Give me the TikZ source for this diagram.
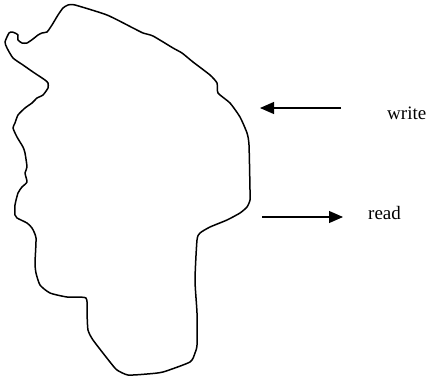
\documentclass[tikz,border=0pt]{standalone}
\usepackage{fontspec}
\setmainfont{Liberation Serif}
\usetikzlibrary{arrows.meta}
\begin{document}
\begin{tikzpicture}[x=1pt,y=-1pt,
  outline/.style={line width=1.5pt,line join=round},
  flowarrow/.style={line width=1.1pt,-{Triangle[length=14pt,width=12pt]}},
  label/.style={font=\fontsize{19}{22}\selectfont,inner sep=0pt,anchor=west}]
\useasboundingbox (0,0) rectangle (430,378);
\draw[outline] plot[smooth cycle,tension=0.35] coordinates {
(68,5) (75,5) (107,15) (133,28) (143,33) (153,36) (173,48) (182,53) (193,62) (210,75) (217,83) (218,93) (230,103) (240,117) (247,133) (249,145) (250,190) (250,200) (247,207) (240,213) (227,220) (210,227) (200,233) (197,240) (195,280) (197,313) (197,345) (195,353) (190,362) (163,372) (147,374) (128,375) (117,370) (110,362) (93,340) (88,330) (87,313) (86,298) (67,297) (50,293) (40,285) (36,273) (35,263) (36,238) (32,228) (27,223) (17,218) (15,215) (15,205) (18,193) (22,187) (27,182) (25,173) (27,167) (25,153) (23,147) (17,137) (13,128) (15,123) (18,115) (25,108) (32,103) (37,98) (43,95) (48,88) (48,83) (45,80) (33,72) (23,65) (13,58) (7,48) (5,42) (9,33) (12,32) (15,33) (18,35) (18,40) (22,43) (27,43) (33,39) (38,35) (42,33) (47,32) (50,28) (52,25) (58,15) (63,8)};
\coordinate (wtail) at (341,108);
\coordinate (whead) at (260,108);
\coordinate (rtail) at (262,217);
\coordinate (rhead) at (343,217);
\node[label] (write) at (387,113) {write};
\node[label] (read) at (368,213) {read};
\draw[flowarrow] (wtail) -- (whead);
\draw[flowarrow] (rtail) -- (rhead);
\end{tikzpicture}
\end{document}
